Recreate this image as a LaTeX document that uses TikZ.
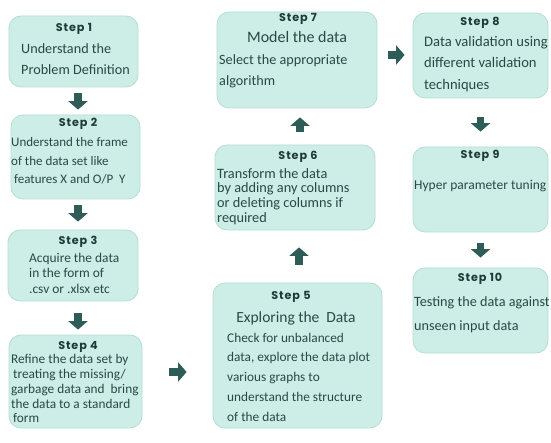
\documentclass[tikz,border=0pt]{standalone}
\usepackage{fontspec}
\newfontfamily\stepfont{Poppins}[LetterSpace=8]
\newfontfamily\bodyfont{Carlito}
\usetikzlibrary{arrows.meta}
\definecolor{boxfill}{HTML}{CDEEE7}
\definecolor{boxline}{HTML}{B5DDD5}
\definecolor{arrowc}{HTML}{2E5C56}
\definecolor{txt}{HTML}{2A4846}
\definecolor{steptxt}{HTML}{1F3B38}
\tikzset{
  box/.style={draw=boxline, line width=0.8pt, fill=boxfill, rounded corners=12pt, inner sep=0pt},
  steplbl/.style={font=\stepfont\bfseries\fontsize{11.2}{12}\selectfont, text=steptxt, inner sep=0pt},
  body/.style={anchor=north west, align=left, inner sep=0pt, text=txt},
  title/.style={inner sep=0pt, text=txt},
  blk/.style={draw=arrowc, line width=7.5pt, -{Triangle[length=8.5pt,width=19pt]}},
}
\begin{document}
\begin{tikzpicture}[x=1pt,y=-1pt]
\useasboundingbox[fill=white] (0,0) rectangle (551,443);
% boxes
\node[box, minimum width=129pt, minimum height=71pt] (b1) at (73.5,51.5) {};
\node[box, minimum width=129pt, minimum height=84pt] (b2) at (75.5,157) {};
\node[box, minimum width=130pt, minimum height=71pt] (b3) at (73,265.5) {};
\node[box, minimum width=133pt, minimum height=93pt] (b4) at (75.5,381.5) {};
\node[box, minimum width=169pt, minimum height=145pt] (b5) at (297.5,355.5) {};
\node[box, minimum width=160pt, minimum height=85pt] (b6) at (295,187.5) {};
\node[box, minimum width=160pt, minimum height=96pt] (b7) at (297,60) {};
\node[box, minimum width=135pt, minimum height=85pt] (b8) at (480.5,55.5) {};
\node[box, minimum width=135pt, minimum height=85pt] (b9) at (480.5,189.5) {};
\node[box, minimum width=135pt, minimum height=85pt] (b10) at (480.5,310.5) {};
% step labels
\node[steplbl] (s1) at (74,29) {Step 1};
\node[steplbl] (s2) at (78,124) {Step 2};
\node[steplbl] (s3) at (78,242) {Step 3};
\node[steplbl] (s4) at (78,347) {Step 4};
\node[steplbl] (s5) at (291,297) {Step 5};
\node[steplbl] (s6) at (298,157) {Step 6};
\node[steplbl] (s7) at (298,19) {Step 7};
\node[steplbl] (s8) at (480,23) {Step 8};
\node[steplbl] (s9) at (480,156) {Step 9};
\node[steplbl] (s10) at (480,279) {Step 10};
% body texts
\node[body, font=\bodyfont\fontsize{14.2}{21}\selectfont] (t1) at (21,38.5)
  {\strut Understand the\\ Problem Definition};
\node[body, font=\bodyfont\fontsize{13}{18.5}\selectfont] (t2) at (11,133.8)
  {\strut Understand the frame\\of the data set like\\\hspace{3pt}features X and O/P\ \ Y};
\node[body, font=\bodyfont\fontsize{13.4}{15.5}\selectfont] (t3) at (29,251)
  {\strut Acquire the data\\in the form of\\.csv or .xlsx etc};
\node[body, font=\bodyfont\fontsize{13.3}{14.7}\selectfont] (t4) at (11,353.5)
  {\strut Refine the data set by\\\hspace{2pt}treating the missing/\\garbage data and\ \ bring\\the data to a standard\\\hspace{2pt}form};
\node[title, font=\bodyfont\fontsize{15.5}{18}\selectfont] (h5) at (296,318) {Exploring the\ \ Data};
\node[body, font=\bodyfont\fontsize{13.3}{19.8}\selectfont] (t5) at (227,328)
  {\strut Check for unbalanced\\data, explore the data plot\\various graphs to\\understand the structure\\of the data};
\node[body, font=\bodyfont\fontsize{14.3}{14.8}\selectfont] (t6) at (217,167.5)
  {\strut Transform the data\\by adding any columns\\or deleting columns if\\required};
\node[title, font=\bodyfont\fontsize{16}{18}\selectfont] (h7) at (297,37.5) {Model the data};
\node[body, font=\bodyfont\fontsize{14.2}{21}\selectfont] (t7) at (219,49.2)
  {\strut Select the appropriate\\algorithm};
\node[body, font=\bodyfont\fontsize{14.6}{21.5}\selectfont] (t8) at (424,31.2)
  {\strut Data validation using\\different validation\\techniques};
\node[body, anchor=west, font=\bodyfont\fontsize{13.5}{16}\selectfont] (t9) at (414,186)
  {Hyper parameter tuning};
\node[body, font=\bodyfont\fontsize{14.2}{24}\selectfont] (t10) at (414,289.2)
  {\strut Testing the data against\\unseen input data};
% block arrows
\draw[blk, shorten <=6pt, shorten >=5pt] ([xshift=4.5pt]b1.south) -- ([xshift=4.5pt]b1.south |- b2.north);
\draw[blk, shorten <=6pt, shorten >=8pt] ([xshift=2.5pt]b2.south) -- ([xshift=2.5pt]b2.south |- b3.north);
\draw[blk, shorten <=12pt, shorten >=5pt] ([xshift=5pt]b3.south) -- ([xshift=5pt]b3.south |- b4.north);
\draw[blk, shorten <=27pt, shorten >=26pt] ([yshift=9.5pt]b4.east) -- ([yshift=9.5pt]b4.east -| b5.west);
\draw[blk, shorten <=18pt, shorten >=17pt] ([xshift=1.5pt]b5.north) -- ([xshift=1.5pt]b5.north |- b6.south);
\draw[blk, shorten <=13pt, shorten >=9pt] ([xshift=5pt]b6.north) -- ([xshift=5pt]b6.north |- b7.south);
\draw[blk, shorten <=11pt, shorten >=8pt] ([yshift=5pt]b7.east) -- ([yshift=5pt]b7.east -| b8.west);
\draw[blk, shorten <=19pt, shorten >=15pt] (b8.south) -- (b9.north);
\draw[blk, shorten <=11pt, shorten >=10pt] (b9.south) -- (b10.north);
\end{tikzpicture}
\end{document}
